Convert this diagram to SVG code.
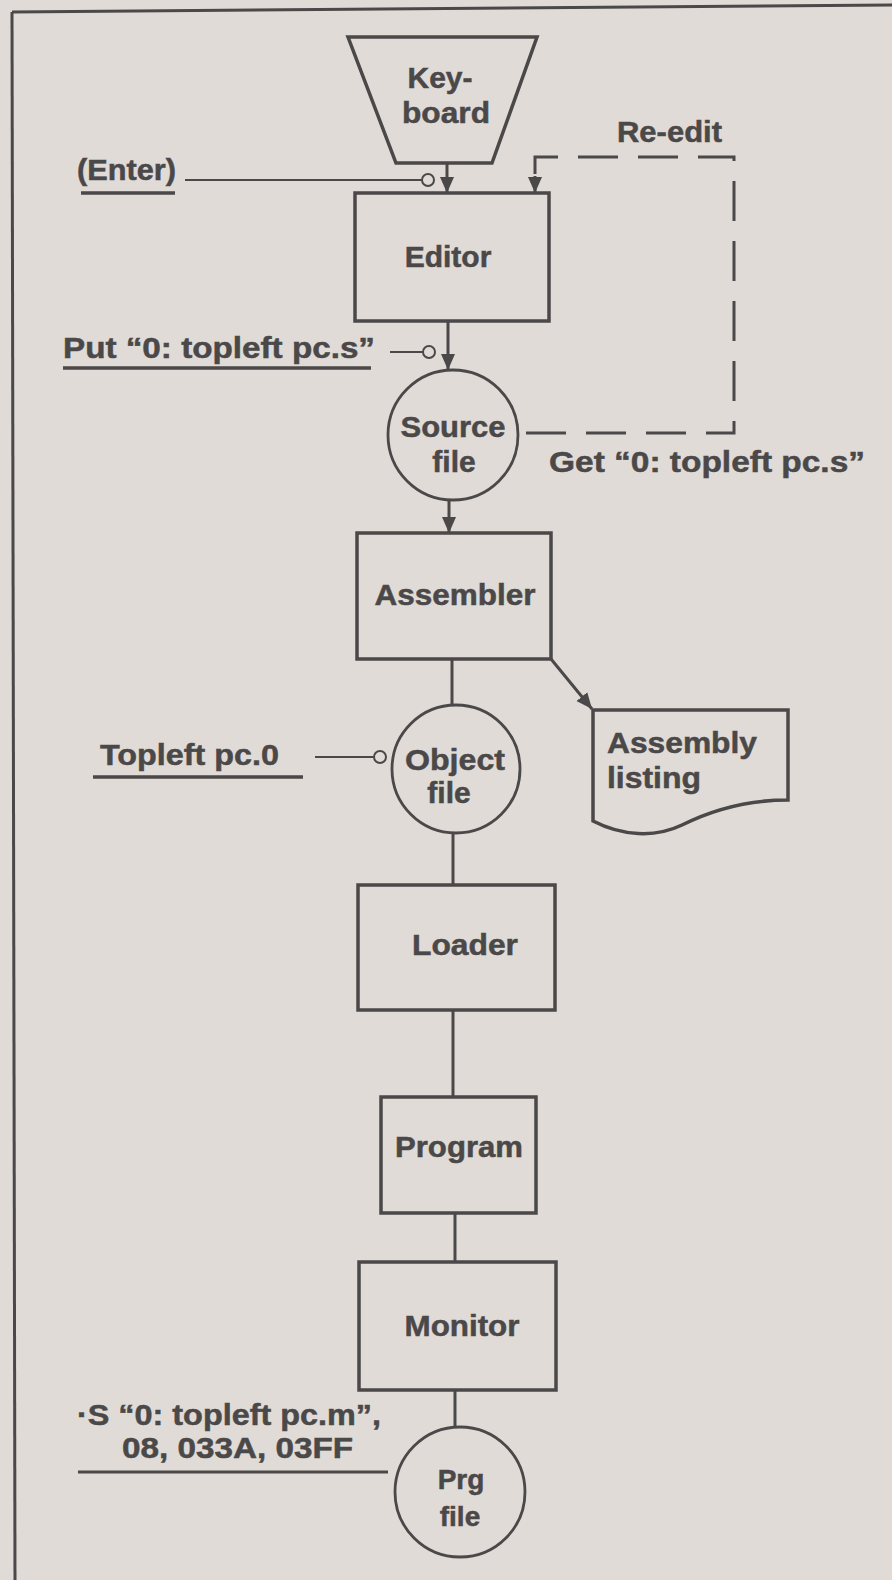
<svg xmlns="http://www.w3.org/2000/svg" width="892" height="1580" viewBox="0 0 892 1580">
<defs>
<style>
.bg{fill:#e0dbd6}
.shape{fill:none;stroke:#4a4848;stroke-width:3.5}
.circ{fill:none;stroke:#4a4848;stroke-width:2.8}
.ln{fill:none;stroke:#4a4848;stroke-width:3}
.thin{fill:none;stroke:#4a4848;stroke-width:2}
.dash{fill:none;stroke:#4a4848;stroke-width:3;stroke-dasharray:40 20}
.ul{stroke:#4a4848;stroke-width:3.5}
.pin{fill:#e0dbd6;stroke:#4a4848;stroke-width:2}
text{font-family:"Liberation Sans",Arial,sans-serif;font-weight:bold;font-size:30px;fill:#4a4848;stroke:#4a4848;stroke-width:0.5}
.c{text-anchor:middle}
.s{font-size:28px}
</style>
<marker id="ah" markerUnits="userSpaceOnUse" markerWidth="16" markerHeight="16" viewBox="0 0 16 14" refX="16" refY="7" orient="auto">
<path d="M0,0 L16,7 L0,14 Z" fill="#4a4848"/>
</marker>
</defs>
<rect class="bg" x="0" y="0" width="892" height="1580"/>
<g id="frame">
<line class="ln" x1="12" y1="12" x2="892" y2="5"/>
<line class="ln" x1="12" y1="12" x2="15" y2="1580"/>
</g>
<g id="connectors">
<line class="ln" x1="447" y1="163" x2="447" y2="193" marker-end="url(#ah)"/>
<line class="ln" x1="448" y1="321" x2="448" y2="370" marker-end="url(#ah)"/>
<line class="ln" x1="449" y1="500" x2="449" y2="533" marker-end="url(#ah)"/>
<line class="ln" x1="452" y1="659" x2="452" y2="705"/>
<line class="ln" x1="551" y1="659" x2="592" y2="709" marker-end="url(#ah)"/>
<line class="ln" x1="453" y1="833" x2="453" y2="885"/>
<line class="ln" x1="453" y1="1010" x2="453" y2="1097"/>
<line class="ln" x1="455" y1="1213" x2="455" y2="1262"/>
<line class="ln" x1="455" y1="1390" x2="455" y2="1427"/>
<path class="dash" d="M526,433 H734 V157 H535 V176"/>
<line class="ln" x1="535" y1="176" x2="535" y2="193" marker-end="url(#ah)"/>
<line class="thin" x1="185" y1="180" x2="422" y2="180"/>
<circle class="pin" cx="428" cy="180" r="6"/>
<line class="thin" x1="390" y1="352" x2="423" y2="352"/>
<circle class="pin" cx="429" cy="352" r="6"/>
<line class="thin" x1="315" y1="757" x2="374" y2="757"/>
<circle class="pin" cx="380" cy="757" r="6"/>
<line class="ln" x1="78" y1="1472" x2="388" y2="1472"/>
</g>
<g id="keyboard">
<path class="shape" d="M348,37 H537 L492,163 H396 Z"/>
<text class="c" x="440" y="88">Key-</text>
<text class="c" x="446" y="123" textLength="88" lengthAdjust="spacingAndGlyphs">board</text>
</g>
<g id="enter">
<text x="77" y="180" textLength="99" lengthAdjust="spacingAndGlyphs">(Enter)</text>
<line class="ul" x1="81" y1="193" x2="175" y2="193"/>
</g>
<g id="reedit">
<text x="617" y="142" textLength="105" lengthAdjust="spacingAndGlyphs">Re-edit</text>
</g>
<g id="editor">
<rect class="shape" x="355" y="193" width="194" height="128"/>
<text class="c" x="448" y="267">Editor</text>
</g>
<g id="put">
<text x="63" y="358" textLength="312" lengthAdjust="spacingAndGlyphs">Put “0: topleft pc.s”</text>
<line class="ul" x1="63" y1="368" x2="371" y2="368"/>
</g>
<g id="source">
<circle class="circ" cx="453" cy="435" r="65"/>
<text class="c" x="453" y="437" textLength="105" lengthAdjust="spacingAndGlyphs">Source</text>
<text class="c" x="454" y="472">file</text>
</g>
<g id="get">
<text x="549" y="472" textLength="316" lengthAdjust="spacingAndGlyphs">Get “0: topleft pc.s”</text>
</g>
<g id="assembler">
<rect class="shape" x="357" y="533" width="194" height="126"/>
<text class="c" x="455" y="605" textLength="161" lengthAdjust="spacingAndGlyphs">Assembler</text>
</g>
<g id="listing">
<path class="shape" d="M593,710 H788 V800 C745,800 712,810 682,825 C655,838 622,836 593,821 Z"/>
<text x="607" y="753" textLength="150" lengthAdjust="spacingAndGlyphs">Assembly</text>
<text x="607" y="788" textLength="94" lengthAdjust="spacingAndGlyphs">listing</text>
</g>
<g id="object">
<circle class="circ" cx="456" cy="769" r="64"/>
<text class="c" x="455" y="770" textLength="100" lengthAdjust="spacingAndGlyphs">Object</text>
<text class="c" x="449" y="803">file</text>
</g>
<g id="topleft">
<text x="100" y="765" textLength="179" lengthAdjust="spacingAndGlyphs">Topleft pc.0</text>
<line class="ul" x1="93" y1="777" x2="303" y2="777"/>
</g>
<g id="loader">
<rect class="shape" x="358" y="885" width="197" height="125"/>
<text class="c" x="465" y="955" textLength="106" lengthAdjust="spacingAndGlyphs">Loader</text>
</g>
<g id="program">
<rect class="shape" x="381" y="1097" width="155" height="116"/>
<text class="c" x="459" y="1157" textLength="128" lengthAdjust="spacingAndGlyphs">Program</text>
</g>
<g id="monitor">
<rect class="shape" x="359" y="1262" width="197" height="128"/>
<text class="c" x="462" y="1336" textLength="115" lengthAdjust="spacingAndGlyphs">Monitor</text>
</g>
<g id="save">
<text x="77" y="1425" textLength="304" lengthAdjust="spacingAndGlyphs">·S “0: topleft pc.m”,</text>
<text x="122" y="1458" textLength="231" lengthAdjust="spacingAndGlyphs">08, 033A, 03FF</text>
</g>
<g id="prg">
<circle class="circ" cx="460" cy="1492" r="65"/>
<text class="c s" x="461" y="1489">Prg</text>
<text class="c s" x="460" y="1526">file</text>
</g>
</svg>
